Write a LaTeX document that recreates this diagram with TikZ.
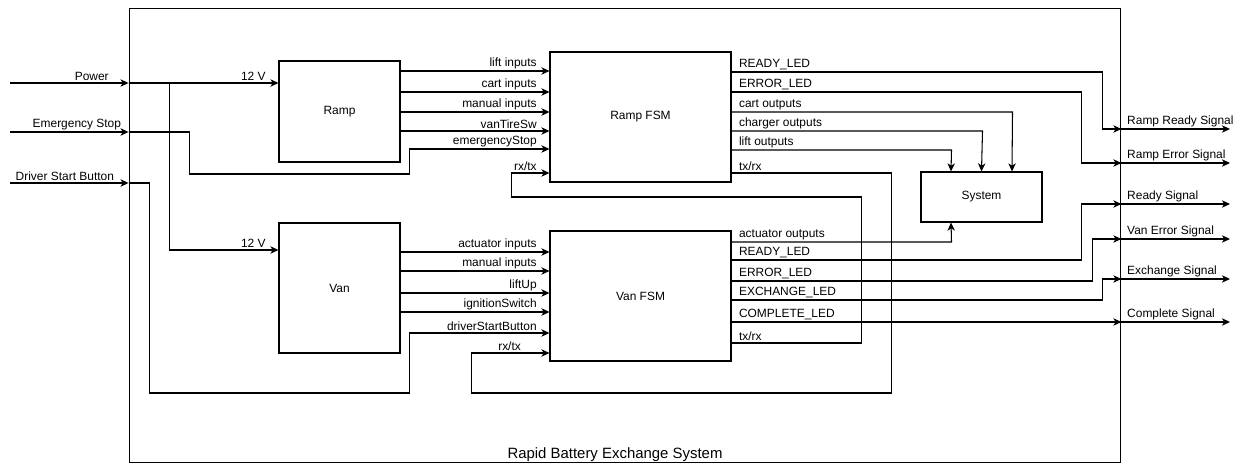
\documentclass[tikz,border=0pt]{standalone}
\usepackage{fontspec}
\setmainfont{Liberation Sans}
\usetikzlibrary{arrows.meta}

\tikzset{
  sig/.style={draw, line width=0.6pt, -{Stealth[length=4.6pt,width=4.2pt,inset=1.3pt]}},
  blk/.style={draw, line width=0.6pt, fill=white, inner sep=0pt, font=\fontsize{6.8}{8}\selectfont},
  lbl/.style={inner sep=1pt, font=\fontsize{6.8}{8}\selectfont},
  inlbl/.style={lbl, pos=1, above left, xshift=-6pt},
  outlbl/.style={lbl, pos=0, above right, xshift=3pt},
}

\begin{document}
\begin{tikzpicture}[x=0.02cm, y=-0.02cm]
  \useasboundingbox (0,0) rectangle (1241,465);

  % outer frame and its title
  \node[draw, line width=0.6pt, minimum width=19.84cm, minimum height=9.1cm, inner sep=0pt] (rbes) at (625,235.5) {};
  \node[lbl, font=\fontsize{8.5}{10}\selectfont, anchor=base] (title) at (615,459) {Rapid Battery Exchange System};

  % blocks
  \node[blk, minimum width=2.42cm, minimum height=2.02cm] (ramp) at (339.5,111.5) {Ramp};
  \node[blk, minimum width=3.62cm, minimum height=2.6cm] (rampfsm) at (640.5,117) {Ramp FSM};
  \node[blk, minimum width=2.42cm, minimum height=2.6cm] (van) at (339.5,288) {Van};
  \node[blk, minimum width=3.62cm, minimum height=2.6cm] (vanfsm) at (640.5,296) {Van FSM};
  \node[blk, minimum width=2.42cm, minimum height=1cm] (system) at (981.5,197) {System};

  % outside inputs
  \coordinate (pwr) at (10,83);
  \coordinate (estop) at (10,132);
  \coordinate (dsb) at (10,183);
  \draw[sig] (pwr) -- (rbes.west |- pwr) node[inlbl, xshift=-4pt] {Power};
  \draw[sig] (estop) -- (rbes.west |- estop) node[inlbl, xshift=3pt] {Emergency Stop};
  \draw[sig] (dsb) -- (rbes.west |- dsb) node[inlbl, xshift=-1pt] {Driver Start Button};

  % power to both blocks
  \draw[sig] (rbes.west |- pwr) -- (ramp.west |- pwr) node[inlbl] {12 V};
  \draw[sig] (rbes.west |- pwr) -- ++(41,0) |- (van.west |- 0,250) node[inlbl] {12 V};

  % emergency stop and start button routed to the FSMs
  \draw[sig] (rbes.west |- estop) -- ++(61,0) -- ++(0,42) -- ++(220,0) |- (rampfsm.west |- 0,149)
    node[inlbl] {emergencyStop};
  \draw[sig] (rbes.west |- dsb) -- ++(21,0) -- ++(0,210) -- ++(260,0) |- (vanfsm.west |- 0,333)
    node[inlbl] {driverStartButton};

  % Ramp -> Ramp FSM
  \foreach \y/\t in {71/lift inputs, 92/cart inputs, 112/manual inputs, 131/vanTireSw}
    \draw[sig] (ramp.east |- 0,\y) -- (rampfsm.west |- 0,\y) node[inlbl] {\t};

  % Van -> Van FSM
  \foreach \y/\t in {252/actuator inputs, 271/manual inputs, 293/liftUp, 312/ignitionSwitch}
    \draw[sig] (van.east |- 0,\y) -- (vanfsm.west |- 0,\y) node[inlbl] {\t};

  % serial links between the FSMs
  \draw[sig] (vanfsm.east |- 0,343) -- ++(130,0) node[outlbl] {tx/rx}
    -- ++(0,-146) -- ++(-350,0) |- (rampfsm.west |- 0,173) node[inlbl] {rx/tx};
  \draw[sig] (rampfsm.east |- 0,173) -- ++(160,0) node[outlbl] {tx/rx}
    -- ++(0,220) -- ++(-420,0) |- (vanfsm.west |- 0,353) node[inlbl, xshift=-9pt] {rx/tx};

  % Ramp FSM outputs
  \draw[sig] (rampfsm.east |- 0,72) -- ++(371,0) node[outlbl] {READY\_LED} |- (rbes.east |- 0,129);
  \draw[sig] (rampfsm.east |- 0,92) -- ++(350,0) node[outlbl] {ERROR\_LED} |- (rbes.east |- 0,163);
  \draw[sig] (rampfsm.east |- 0,112) -- ++(281,0) node[outlbl] {cart outputs} -- (system.north -| 1012,0);
  \draw[sig] (rampfsm.east |- 0,131) -- ++(251,0) node[outlbl] {charger outputs} -- (system.north);
  \draw[sig] (rampfsm.east |- 0,150) -- ++(220,0) node[outlbl] {lift outputs} -- (system.north -| 951,0);

  % Van FSM outputs
  \draw[sig] (vanfsm.east |- 0,242) -- ++(220,0) node[outlbl] {actuator outputs} -- (system.south -| 951,0);
  \draw[sig] (vanfsm.east |- 0,260) -- ++(350,0) node[outlbl] {READY\_LED} |- (rbes.east |- 0,204);
  \draw[sig] (vanfsm.east |- 0,281) -- ++(361,0) node[outlbl] {ERROR\_LED} |- (rbes.east |- 0,239);
  \draw[sig] (vanfsm.east |- 0,300) -- ++(371,0) node[outlbl] {EXCHANGE\_LED} |- (rbes.east |- 0,279);
  \draw[sig] (vanfsm.east |- 0,322) -- (rbes.east |- 0,322) node[outlbl] {COMPLETE\_LED};

  % outside outputs
  \foreach \y/\n/\t in {129/rrs/Ramp Ready Signal, 163/res/Ramp Error Signal, 204/rs/Ready Signal,
                        239/ves/Van Error Signal, 279/exs/Exchange Signal, 322/cs/Complete Signal} {
    \coordinate (\n) at (1230,\y);
    \draw[sig] (rbes.east |- \n) -- (\n) node[outlbl, xshift=-1pt] {\t};
  }
\end{tikzpicture}
\end{document}
